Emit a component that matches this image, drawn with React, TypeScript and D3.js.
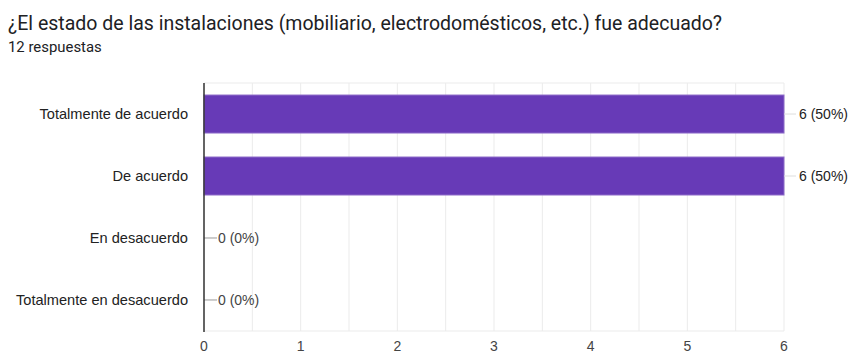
import React from "react";
import * as d3 from "d3";

const categories = ["Totalmente de acuerdo", "De acuerdo", "En desacuerdo", "Totalmente en desacuerdo"];
const values = [6, 6, 0, 0];
const total = 12;
const xTicks = [0, 1, 2, 3, 4, 5, 6];
const title = "¿El estado de las instalaciones (mobiliario, electrodomésticos, etc.) fue adecuado?";
const subtitle = "12 respuestas";

export default function App() {
  const W = 853, H = 354;
  const left = 204, right = 784, top = 83, bottom = 331;
  const x = d3.scaleLinear().domain([0, 6]).range([left, right]);
  const y = d3.scaleBand<string>().domain(categories).range([top, bottom]).paddingInner(0.387).paddingOuter(0.194);
  const minor = d3.range(0, 6.01, 0.5);
  const tfont = "Roboto, Arial, sans-serif";
  const font = "Arial, 'Liberation Sans', sans-serif";
  return (
    <svg width={W} height={H} style={{ position: "absolute", left: 0, top: 0, background: "#fff" }}>
      <text x={8} y={30} fontFamily={tfont} fontSize={19.5} fill="#202124">{title}</text>
      <text x={8} y={52} fontFamily={tfont} fontSize={14.9} fill="#202124">{subtitle}</text>
      {minor.map((t) => (
        <line key={"g" + t} x1={x(t)} x2={x(t)} y1={top} y2={bottom} stroke="#ebebeb" strokeWidth={1} />
      ))}
      <line x1={left} x2={right} y1={top} y2={top} stroke="#ebebeb" />
      <line x1={left} x2={right} y1={bottom} y2={bottom} stroke="#ebebeb" />
      {categories.map((c, i) => {
        const yc = (y(c) as number) + y.bandwidth() / 2;
        const v = values[i];
        const pct = Math.round((v / total) * 100);
        return (
          <g key={c}>
            {v > 0 && (
              <rect x={x(0)} y={y(c)} width={x(v) - x(0)} height={y.bandwidth()} fill="#673ab7" stroke="#8e6cc9" strokeWidth={1} />
            )}
            <text x={188} y={yc} dy="0.35em" textAnchor="end" fontFamily={font} fontSize={14.6} fill="#222">{c}</text>
            {v > 0 ? (
              <>
                <line x1={x(v)} x2={x(v) + 12} y1={yc} y2={yc} stroke="#ddd" />
                <text x={x(v) + 15} y={yc} dy="0.35em" fontFamily={font} fontSize={14} fill="#222">{`${v} (${pct}%)`}</text>
              </>
            ) : (
              <>
                <line x1={x(0)} x2={x(0) + 13} y1={yc} y2={yc} stroke="#999" />
                <text x={x(0) + 14} y={yc} dy="0.35em" fontFamily={font} fontSize={14} fill="#444">{`${v} (${pct}%)`}</text>
              </>
            )}
          </g>
        );
      })}
      <line x1={left} x2={left} y1={top} y2={bottom + 1} stroke="#333" strokeWidth={1.5} />
      {xTicks.map((t) => (
        <text key={"t" + t} x={x(t)} y={351} textAnchor="middle" fontFamily={font} fontSize={14} fill="#444">{t}</text>
      ))}
    </svg>
  );
}
